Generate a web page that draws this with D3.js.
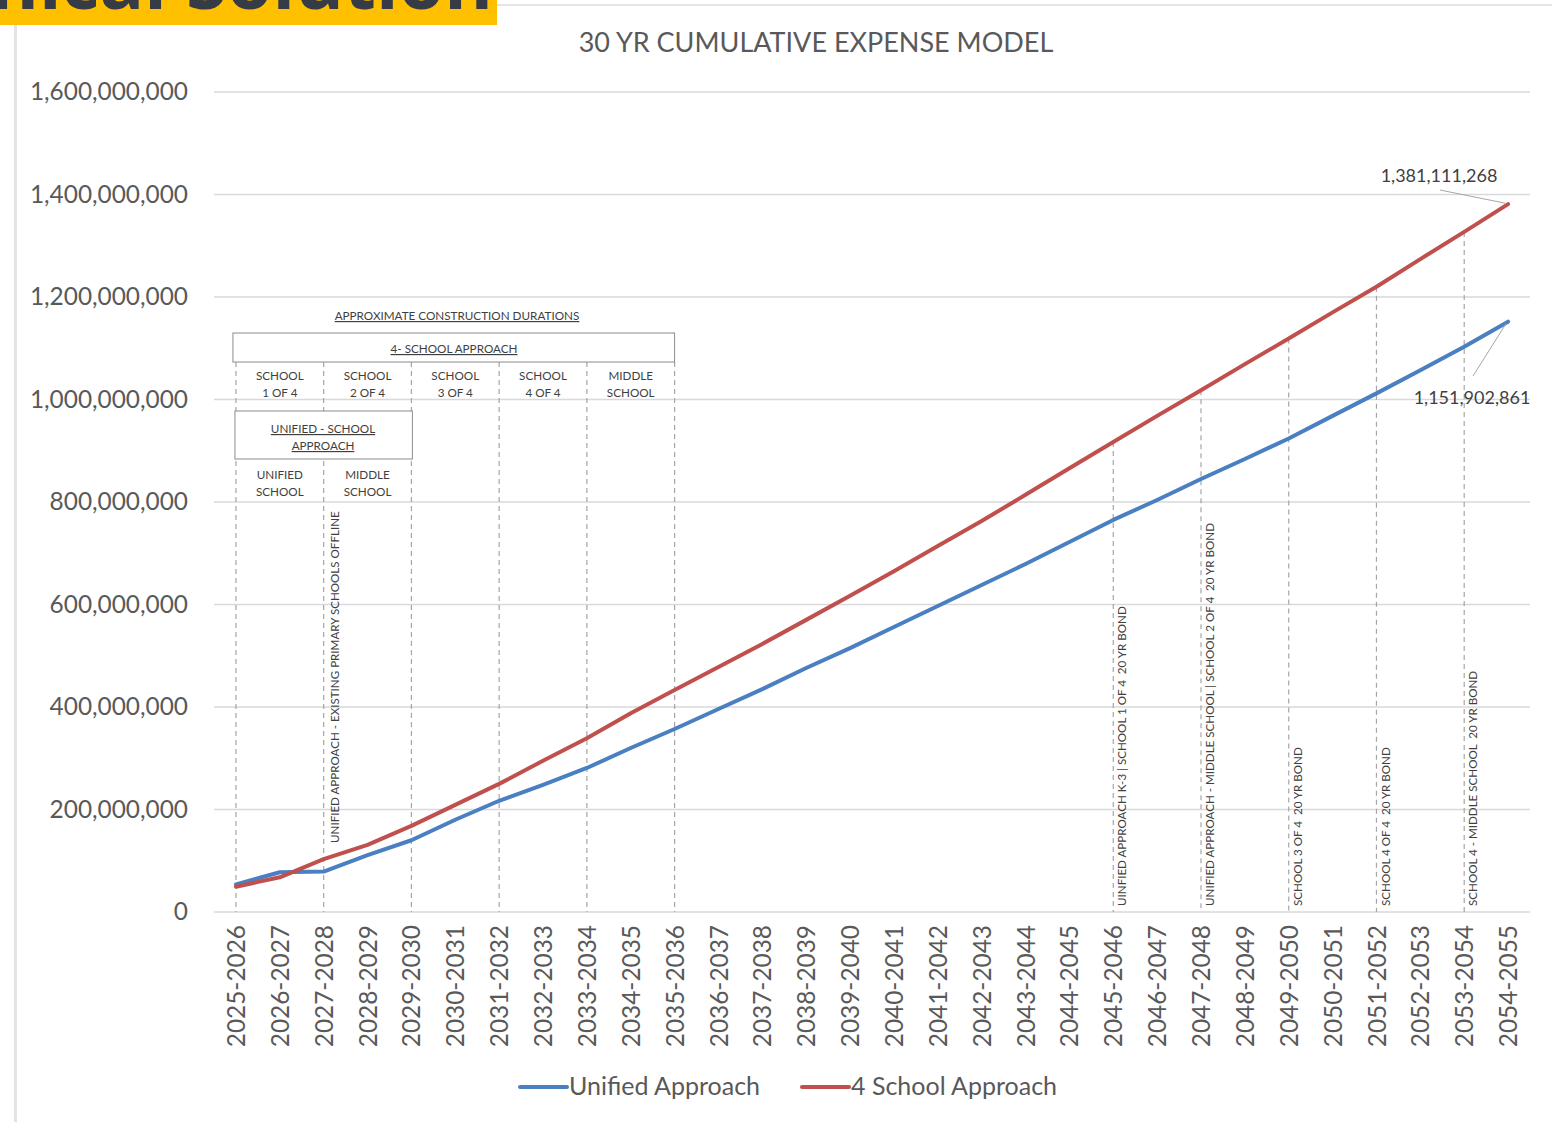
<!DOCTYPE html>
<html>
<head>
<meta charset="utf-8">
<script src="https://cdn.jsdelivr.net/npm/d3@7"></script>
<style>
  html, body { margin: 0; padding: 0; background: #ffffff; }
  svg { display: block; }
  text { font-family: Lato, "Open Sans", "DejaVu Sans", sans-serif; }
</style>
</head>
<body>
<svg id="chart" width="1552" height="1122"></svg>
<script>
// ---------------- DATA ----------------
const categories = [
  "2025-2026","2026-2027","2027-2028","2028-2029","2029-2030","2030-2031",
  "2031-2032","2032-2033","2033-2034","2034-2035","2035-2036","2036-2037",
  "2037-2038","2038-2039","2039-2040","2040-2041","2041-2042","2042-2043",
  "2043-2044","2044-2045","2045-2046","2046-2047","2047-2048","2048-2049",
  "2049-2050","2050-2051","2051-2052","2052-2053","2053-2054","2054-2055"
];
const unifiedApproach = [
  54000000, 77500000, 79000000, 111000000, 140000000, 180000000,
  217000000, 248000000, 281000000, 320000000, 357000000, 396000000,
  435000000, 476000000, 515000000, 556000000, 597000000, 638000000,
  679000000, 722000000, 765000000, 804000000, 845000000, 884000000,
  924000000, 968000000, 1012000000, 1057000000, 1103000000, 1151902861
];
const fourSchoolApproach = [
  49400000, 67700000, 103000000, 131000000, 168000000, 209000000,
  250000000, 295000000, 339000000, 388000000, 433000000, 478000000,
  523000000, 570000000, 617000000, 665000000, 714000000, 763000000,
  814000000, 866000000, 917000000, 968000000, 1018000000, 1069000000,
  1119000000, 1170000000, 1220000000, 1274000000, 1327000000, 1381111268
];
const yTickValues = [0, 200000000, 400000000, 600000000, 800000000, 1000000000, 1200000000, 1400000000, 1600000000];
const seriesNames = ["Unified Approach", "4 School Approach"];
const chartTitle = "30 YR CUMULATIVE EXPENSE MODEL";
const bannerText = "Technical Solution";

// construction duration annotation (category references)
const constructionBoundaries = ["2025-2026","2027-2028","2029-2030","2031-2032","2033-2034","2035-2036"];
const fourSchoolPhases = [
  {from: "2025-2026", to: "2027-2028", lines: ["SCHOOL", "1 OF 4"]},
  {from: "2027-2028", to: "2029-2030", lines: ["SCHOOL", "2 OF 4"]},
  {from: "2029-2030", to: "2031-2032", lines: ["SCHOOL", "3 OF 4"]},
  {from: "2031-2032", to: "2033-2034", lines: ["SCHOOL", "4 OF 4"]},
  {from: "2033-2034", to: "2035-2036", lines: ["MIDDLE", "SCHOOL"]}
];
const unifiedPhases = [
  {from: "2025-2026", to: "2027-2028", lines: ["UNIFIED", "SCHOOL"]},
  {from: "2027-2028", to: "2029-2030", lines: ["MIDDLE", "SCHOOL"]}
];
const eventMarkers = [
  {cat: "2027-2028", label: "UNIFIED APPROACH - EXISTING PRIMARY SCHOOLS OFFLINE"},
  {cat: "2045-2046", label: "UINFIED APPROACH K-3 | SCHOOL 1 OF 4  20 YR BOND"},
  {cat: "2047-2048", label: "UNIFIED APPROACH - MIDDLE SCHOOL | SCHOOL 2 OF 4  20 YR BOND"},
  {cat: "2049-2050", label: "SCHOOL 3 OF 4  20 YR BOND"},
  {cat: "2051-2052", label: "SCHOOL 4 OF 4  20 YR BOND"},
  {cat: "2053-2054", label: "SCHOOL 4 - MIDDLE SCHOOL  20 YR BOND"}
];

// ---------------- LAYOUT ----------------
const svg = d3.select("#chart");
const plot = {left: 214, right: 1530, top: 92, bottom: 912};
const colors = {blue: "#4a7fc1", red: "#c0504d", grid: "#d9d9d9", text: "#595959", note: "#3f3f3f", dash: "#a6a6a6"};

const x = d3.scalePoint().domain(categories).range([plot.left, plot.right]).padding(0.5);
const y = d3.scaleLinear().domain([0, 1600000000]).range([plot.bottom, plot.top]);

// page decorations
svg.append("rect").attr("x", 0).attr("y", 0).attr("width", 497).attr("height", 25).attr("fill", "#ffc000");
svg.append("defs").append("clipPath").attr("id", "bannerClip")
  .append("rect").attr("x", 0).attr("y", 0).attr("width", 497).attr("height", 25);
svg.append("text").attr("clip-path", "url(#bannerClip)")
  .attr("x", 493).attr("y", 9).attr("text-anchor", "end")
  .style("font-family", "'Open Sans', Lato, sans-serif")
  .style("font-weight", 700).style("font-size", "74px").attr("fill", "#363b45")
  .text(bannerText);
svg.append("line").attr("x1", 497).attr("x2", 1552).attr("y1", 5).attr("y2", 5)
  .attr("stroke", "#e6e6e6").attr("stroke-width", 2);
svg.append("line").attr("x1", 15.5).attr("x2", 15.5).attr("y1", 25).attr("y2", 1122)
  .attr("stroke", "#e3e3e3").attr("stroke-width", 3);

// title
svg.append("text").attr("x", 816).attr("y", 52).attr("text-anchor", "middle")
  .attr("fill", colors.text).style("font-size", "27px").text(chartTitle);

// gridlines
svg.append("g").selectAll("line").data(yTickValues).join("line")
  .attr("x1", plot.left).attr("x2", plot.right)
  .attr("y1", d => y(d)).attr("y2", d => y(d))
  .attr("stroke", colors.grid).attr("stroke-width", 1.3);

// y axis
const yAxis = svg.append("g").attr("transform", `translate(${plot.left - 26},0)`)
  .call(d3.axisLeft(y).tickValues(yTickValues).tickFormat(d3.format(",")).tickSize(0).tickPadding(0));
yAxis.select(".domain").remove();
yAxis.selectAll("text").attr("fill", colors.text).style("font-size", "24.4px")
  .style("font-family", "Lato, 'Open Sans', sans-serif");

// x axis
const xAxis = svg.append("g").attr("transform", `translate(0,${plot.bottom})`)
  .call(d3.axisBottom(x).tickSize(0).tickPadding(0));
xAxis.select(".domain").remove();
xAxis.selectAll("text")
  .attr("transform", "translate(0,13) rotate(-90)")
  .attr("text-anchor", "end").attr("dy", "0.35em").attr("x", 0).attr("y", 0)
  .attr("fill", colors.text).style("font-size", "24.4px")
  .style("font-family", "Lato, 'Open Sans', sans-serif");

// construction dashed verticals
const ann = svg.append("g");
ann.selectAll("line.cons").data(constructionBoundaries).join("line").attr("class", "cons")
  .attr("x1", d => x(d)).attr("x2", d => x(d))
  .attr("y1", 362).attr("y2", plot.bottom)
  .attr("stroke", colors.dash).attr("stroke-width", 1.2).attr("stroke-dasharray", "5,4");

// event dashed verticals (from red series down to axis)
const redAt = c => fourSchoolApproach[categories.indexOf(c)];
ann.selectAll("line.evt").data(eventMarkers.slice(1)).join("line").attr("class", "evt")
  .attr("x1", d => x(d.cat)).attr("x2", d => x(d.cat))
  .attr("y1", d => y(redAt(d.cat))).attr("y2", plot.bottom)
  .attr("stroke", colors.dash).attr("stroke-width", 1.2).attr("stroke-dasharray", "5,4");

// boxes
const noteFont = "11.7px";
svg.append("text").attr("x", 457).attr("y", 320).attr("text-anchor", "middle")
  .attr("fill", colors.note).style("font-size", noteFont).style("text-decoration", "underline")
  .text("APPROXIMATE CONSTRUCTION DURATIONS");
svg.append("rect").attr("x", x("2025-2026") - 3).attr("y", 333)
  .attr("width", x("2035-2036") - x("2025-2026") + 3).attr("height", 29)
  .attr("fill", "#fff").attr("stroke", "#8c8c8c").attr("stroke-width", 1);
svg.append("text").attr("x", 454).attr("y", 353).attr("text-anchor", "middle")
  .attr("fill", colors.note).style("font-size", noteFont).style("text-decoration", "underline")
  .text("4- SCHOOL APPROACH");
svg.append("rect").attr("x", x("2025-2026") - 1).attr("y", 411)
  .attr("width", x("2029-2030") - x("2025-2026") + 2).attr("height", 48)
  .attr("fill", "#fff").attr("stroke", "#8c8c8c").attr("stroke-width", 1);
svg.append("text").attr("x", 323).attr("y", 433).attr("text-anchor", "middle")
  .attr("fill", colors.note).style("font-size", noteFont).style("text-decoration", "underline")
  .text("UNIFIED - SCHOOL");
svg.append("text").attr("x", 323).attr("y", 450).attr("text-anchor", "middle")
  .attr("fill", colors.note).style("font-size", noteFont).style("text-decoration", "underline")
  .text("APPROACH");

function phaseLabels(data, y0) {
  const g = svg.append("g");
  data.forEach(p => {
    const cx = (x(p.from) + x(p.to)) / 2;
    p.lines.forEach((t, i) => {
      g.append("text").attr("x", cx).attr("y", y0 + i * 17).attr("text-anchor", "middle")
        .attr("fill", colors.note).style("font-size", noteFont).text(t);
    });
  });
}
phaseLabels(fourSchoolPhases, 380);
phaseLabels(unifiedPhases, 479);

// rotated event labels
svg.append("g").selectAll("text").data(eventMarkers).join("text")
  .attr("transform", (d, i) => `translate(${x(d.cat) + (i === 0 ? 11 : 9)},${i === 0 ? 843 : 906}) rotate(-90)`)
  .attr("dy", "0.35em").attr("fill", colors.note)
  .style("font-size", "11.6px").style("white-space", "pre").attr("xml:space", "preserve")
  .text(d => d.label);

// series
const line = d3.line().x((d, i) => x(categories[i])).y(d => y(d));
svg.append("path").datum(unifiedApproach).attr("d", line)
  .attr("fill", "none").attr("stroke", colors.blue).attr("stroke-width", 4).attr("stroke-linejoin", "round").attr("stroke-linecap", "round");
svg.append("path").datum(fourSchoolApproach).attr("d", line)
  .attr("fill", "none").attr("stroke", colors.red).attr("stroke-width", 4).attr("stroke-linejoin", "round").attr("stroke-linecap", "round");

// end data labels
const lastCat = categories[categories.length - 1];
const lastRed = fourSchoolApproach[fourSchoolApproach.length - 1];
const lastBlue = unifiedApproach[unifiedApproach.length - 1];
svg.append("line").attr("x1", 1440).attr("y1", 190).attr("x2", x(lastCat) - 3).attr("y2", y(lastRed) - 1)
  .attr("stroke", "#a6a6a6").attr("stroke-width", 1);
svg.append("text").attr("x", 1439).attr("y", 182).attr("text-anchor", "middle")
  .attr("fill", colors.note).style("font-size", "18px").text(d3.format(",")(lastRed));
svg.append("line").attr("x1", 1473).attr("y1", 376).attr("x2", x(lastCat) - 2).attr("y2", y(lastBlue) + 2)
  .attr("stroke", "#a6a6a6").attr("stroke-width", 1);
svg.append("text").attr("x", 1472).attr("y", 404).attr("text-anchor", "middle")
  .attr("fill", colors.note).style("font-size", "18px").text(d3.format(",")(lastBlue));

// legend
const legend = svg.append("g");
[[colors.blue, 520, seriesNames[0]], [colors.red, 802, seriesNames[1]]].forEach(([c, lx, t]) => {
  legend.append("line").attr("x1", lx).attr("x2", lx + 47).attr("y1", 1087).attr("y2", 1087)
    .attr("stroke", c).attr("stroke-width", 4).attr("stroke-linecap", "round");
  legend.append("text").attr("x", lx + 49).attr("y", 1095).attr("fill", colors.text)
    .style("font-size", "25px").text(t);
});
</script>
</body>
</html>
